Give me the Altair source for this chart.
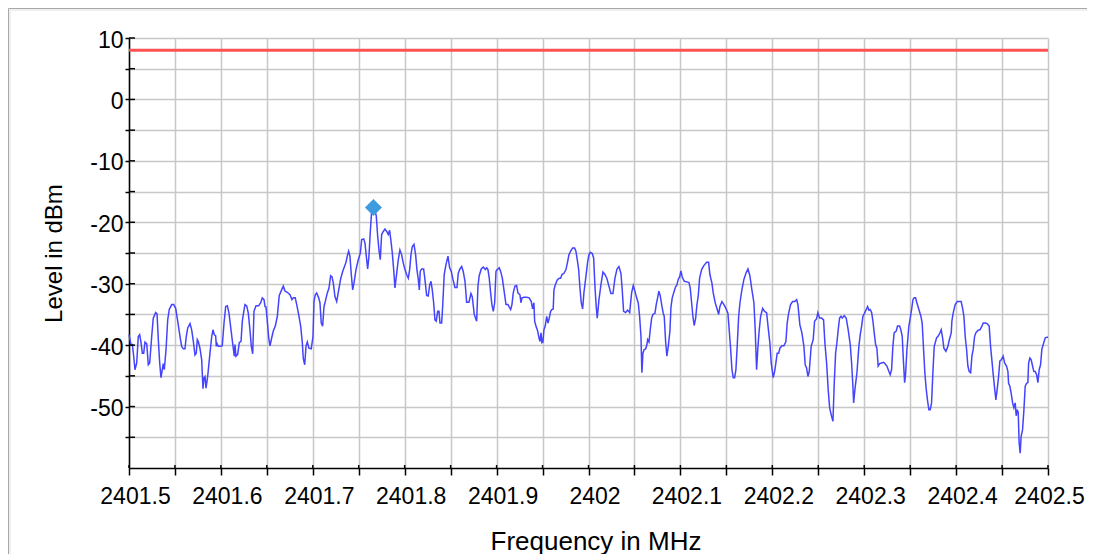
import altair as alt
import pandas as pd

# Sweep offsets from the start frequency (kHz) and measured levels (dBm)
start_mhz = 2401.5
offset_khz = [
    0, 2.2, 3.6, 5.1, 6.5, 8.4, 10.1, 11.6, 13.1, 14.5, 16.0, 17.4, 19.3, 21.0, 22.5, 24.7, 26.4, 29.0, 30.5, 31.9,
    33.4, 34.8, 36.2, 37.3, 38.4, 40.3, 42.1, 43.8, 46.5, 48.6, 50.8, 53.0, 55.5, 57.3, 59.1, 60.9, 62.3, 63.9, 66.4, 68.2,
    70.0, 71.8, 73.2, 74.3, 75.4, 77.2, 79.1, 80.5, 81.6, 82.7, 83.8, 85.6, 88.1, 90.0, 91.4, 92.8, 94.3, 95.0, 95.7, 97.2,
    99.3, 101.5, 103.4, 105.2, 107.0, 108.8, 111.0, 113.2, 114.6, 115.3, 116.4, 118.3, 120.0, 121.9, 123.3, 124.4, 126.2, 128.1, 129.8, 131.6,
    133.1, 134.6, 136.0, 138.2, 141.1, 143.3, 145.0, 146.9, 148.0, 149.1, 150.5, 152.0, 153.4, 155.3, 157.0, 159.2, 161.4, 163.5, 166.1, 167.9,
    169.7, 172.2, 175.2, 177.3, 178.8, 180.9, 182.5, 184.6, 186.8, 188.6, 189.6, 191.2, 192.6, 194.0, 195.8, 198.3, 200.2, 201.3, 202.7, 204.2,
    206.4, 207.8, 209.2, 210.7, 212.2, 213.6, 215.8, 217.6, 219.4, 220.9, 222.3, 224.1, 226.0, 228.2, 230.3, 232.5, 234.7, 236.1, 237.5, 239.0,
    240.4, 241.9, 243.4, 244.8, 247.0, 249.5, 251.7, 253.2, 255.4, 256.8, 258.2, 259.7, 261.1, 262.5, 264.1, 265.8, 267.6, 269.1, 270.6, 272.0,
    273.4, 274.9, 276.7, 278.5, 280.4, 282.1, 283.6, 285.1, 286.5, 288.0, 289.4, 291.3, 293.0, 294.8, 296.7, 298.4, 300.3, 302.1, 303.9, 305.4,
    306.8, 308.2, 310.1, 311.9, 313.3, 314.8, 315.9, 316.9, 318.5, 320.6, 322.0, 323.9, 325.6, 327.2, 328.6, 330.0, 331.5, 332.9, 334.3, 335.9,
    337.3, 338.4, 340.2, 341.3, 343.0, 344.9, 347.1, 348.9, 350.7, 352.5, 354.7, 356.9, 358.3, 360.1, 362.0, 363.7, 365.6, 367.4, 369.9, 372.1,
    373.5, 375.7, 378.3, 379.7, 381.1, 383.3, 385.5, 387.7, 389.2, 390.6, 392.0, 393.5, 394.9, 396.4, 397.9, 399.3, 400.7, 402.9, 404.4, 406.2,
    408.0, 410.2, 412.4, 413.8, 415.3, 416.7, 418.1, 420.0, 421.8, 423.2, 425.4, 426.5, 427.6, 429.8, 432.7, 435.5, 437.7, 439.2, 440.6, 441.4,
    442.8, 444.7, 446.1, 447.2, 448.3, 449.3, 450.4, 451.5, 452.9, 454.5, 455.9, 457.3, 458.8, 460.2, 461.6, 462.4, 463.8, 466.0, 468.2, 469.7,
    471.1, 473.3, 475.5, 477.3, 478.7, 480.9, 482.7, 484.9, 486.3, 487.8, 489.3, 490.7, 492.1, 493.6, 495.0, 497.2, 499.1, 500.5, 501.9, 504.1,
    505.6, 507.0, 508.4, 509.5, 511.4, 513.5, 515.7, 517.9, 520.1, 522.2, 524.4, 526.6, 528.8, 531.0, 533.1, 535.3, 536.7, 538.2, 540.4, 542.6,
    544.8, 546.9, 548.7, 550.5, 552.4, 554.1, 555.6, 557.1, 558.1, 559.2, 560.6, 562.2, 563.6, 564.3, 565.8, 567.2, 568.7, 570.1, 572.3, 573.7,
    575.2, 576.6, 578.1, 579.6, 581.3, 582.4, 583.9, 585.3, 586.8, 588.6, 589.7, 591.1, 593.3, 594.8, 596.2, 597.6, 599.2, 600.6, 602.0, 604.2,
    607.1, 609.3, 610.7, 612.2, 613.6, 615.0, 616.6, 618.0, 619.4, 620.9, 623.1, 625.3, 628.5, 630.7, 632.1, 634.3, 635.7, 637.9, 640.1, 641.6,
    643.0, 645.2, 647.4, 649.5, 651.7, 653.1, 654.7, 656.1, 657.5, 659.0, 660.4, 661.8, 663.4, 664.8, 666.9, 669.1, 671.3, 673.5, 675.6, 677.8,
    680.0, 681.4, 682.9, 684.4, 685.8, 687.3, 689.5, 691.6, 693.8, 695.2, 697.4, 698.8, 701.0, 702.5, 703.9, 705.3, 706.9, 708.3, 710.5, 712.6,
    714.8, 716.2, 717.8, 719.9, 722.1, 724.3, 726.5, 727.9, 730.0, 732.2, 734.4, 735.8, 737.3, 738.8, 740.2, 742.3, 744.5, 746.0, 748.2, 749.6,
    751.5, 753.7, 755.8, 757.2, 759.1, 760.8, 762.4, 764.5, 766.0, 767.4, 768.9, 770.3, 771.7, 773.2, 774.7, 776.1, 778.2, 780.4, 782.6, 784.8,
    786.3, 787.7, 788.5, 789.9, 792.1, 794.2, 795.7, 797.2, 798.6, 800.0, 802.2, 803.7, 805.1, 806.5, 808.1, 809.5, 810.9, 812.4, 813.8, 815.2,
    816.8, 818.9, 821.1, 822.5, 824.7, 826.9, 828.3, 829.8, 831.2, 832.6, 834.8, 836.3, 838.5, 839.9, 841.4, 842.4, 844.0, 845.0, 846.5, 848.6,
    850.1, 851.6, 853.0, 854.4, 855.9, 857.3, 859.5, 861.7, 863.1, 864.6, 866.0, 867.5, 869.0, 870.4, 871.8, 873.3, 874.8, 876.2, 878.8, 880.2,
    882.4, 883.8, 885.3, 886.7, 888.9, 891.1, 892.5, 894.7, 895.4, 896.8, 899.0, 901.2, 904.1, 905.5, 907.1, 908.5, 909.9, 911.4, 912.8, 914.3,
    915.8, 917.2, 918.6, 920.1, 921.5, 923.7, 925.9, 928.1, 929.5, 931.7, 933.8, 936.0, 937.5, 938.9, 940.4, 941.9, 943.3, 944.7, 946.2, 947.6,
    949.1, 951.2, 952.8, 954.9, 956.4, 957.1, 958.5, 959.9, 961.5, 962.9, 964.3, 965.4, 966.5, 967.6, 968.6, 969.7, 970.8, 972.3, 973.8, 975.2,
    976.7, 978.1, 978.9, 980.3, 981.7, 983.2, 984.6, 986.1, 987.6, 989.0, 990.4, 991.9, 993.3, 994.8, 997.0, 999.1, 1000.0,
]
level_dbm = [
    -38.3, -39.9, -39.9, -41.8, -44.0, -42.9, -38.6, -38.3, -39.6, -41.3, -41.3, -39.5, -39.8, -43.2, -42.9, -38.6, -35.6, -34.7, -34.9, -39.1,
    -42.9, -45.3, -44.0, -43.0, -44.0, -40.7, -35.9, -34.2, -33.4, -33.4, -34.0, -36.1, -38.6, -40.2, -40.6, -40.6, -38.6, -37.2, -36.5, -37.5,
    -39.4, -41.6, -41.3, -39.1, -39.4, -40.5, -42.4, -47.1, -45.3, -45.1, -47.0, -45.1, -41.3, -38.6, -37.5, -38.3, -38.5, -40.2, -39.7, -40.2,
    -40.2, -40.1, -36.4, -33.7, -33.6, -34.8, -37.5, -40.2, -41.8, -39.9, -41.8, -41.5, -39.6, -39.4, -36.1, -35.0, -33.4, -33.6, -34.8, -37.5,
    -40.2, -41.4, -34.5, -33.6, -33.6, -33.1, -32.3, -32.6, -33.7, -33.8, -36.1, -38.8, -40.1, -38.8, -37.7, -36.9, -35.3, -31.9, -31.0, -30.4,
    -31.2, -31.4, -31.8, -32.6, -32.3, -32.3, -33.4, -35.0, -36.9, -39.6, -42.1, -43.2, -40.2, -39.5, -40.5, -40.6, -38.6, -32.9, -31.8, -31.5,
    -32.3, -33.1, -36.4, -36.9, -33.7, -32.9, -31.5, -30.7, -28.7, -28.9, -29.9, -32.1, -32.9, -31.0, -29.2, -28.0, -27.1, -26.5, -25.5, -24.7,
    -25.5, -28.5, -31.0, -29.9, -27.7, -26.1, -25.0, -22.8, -22.7, -23.4, -25.5, -27.6, -25.5, -21.7, -18.0, -17.6, -18.1, -19.0, -22.3, -24.5,
    -26.1, -22.0, -21.5, -21.1, -21.5, -22.0, -21.3, -23.1, -25.0, -27.7, -30.7, -28.3, -26.1, -24.5, -25.3, -26.6, -27.7, -28.5, -29.1, -27.7,
    -25.3, -24.0, -23.6, -25.3, -27.7, -29.3, -31.0, -28.0, -27.6, -27.6, -29.3, -31.9, -32.0, -30.2, -29.6, -31.0, -33.1, -35.9, -36.1, -34.5,
    -34.5, -36.4, -36.4, -33.7, -28.5, -26.9, -25.5, -27.4, -28.0, -29.3, -30.6, -30.6, -28.3, -27.6, -27.2, -28.0, -29.6, -33.0, -33.0, -31.6,
    -32.1, -35.0, -36.1, -30.4, -28.7, -27.6, -27.3, -27.7, -27.4, -27.7, -29.1, -31.5, -33.4, -34.5, -33.1, -28.0, -27.7, -27.4, -28.0, -29.1,
    -31.0, -33.4, -33.4, -33.8, -34.2, -33.4, -31.5, -30.4, -30.3, -31.5, -31.8, -33.1, -32.3, -32.2, -32.2, -32.3, -32.9, -34.1, -33.1, -36.1,
    -36.9, -37.7, -38.8, -39.4, -38.0, -39.6, -39.5, -37.5, -36.9, -35.3, -36.4, -35.6, -34.5, -34.2, -34.1, -31.0, -30.2, -29.4, -29.1, -29.1,
    -28.5, -28.3, -27.7, -26.4, -25.3, -24.6, -24.2, -24.2, -24.7, -26.1, -27.7, -30.7, -33.1, -34.1, -31.5, -28.8, -26.4, -25.3, -24.9, -25.1,
    -25.8, -30.4, -33.7, -35.6, -32.6, -30.2, -28.1, -28.5, -29.2, -30.4, -31.6, -31.6, -29.1, -27.6, -27.2, -28.3, -31.0, -34.5, -34.7, -34.3,
    -34.7, -31.5, -30.3, -31.2, -32.3, -33.1, -35.3, -38.6, -44.5, -41.3, -40.7, -40.6, -39.9, -39.1, -39.5, -37.5, -35.6, -35.0, -34.8, -33.4,
    -32.3, -31.2, -32.0, -33.4, -34.8, -35.3, -39.4, -41.8, -40.2, -37.7, -33.9, -32.3, -31.2, -30.5, -30.2, -29.3, -28.9, -27.9, -28.9, -29.6,
    -29.7, -29.8, -30.7, -33.1, -35.3, -36.8, -35.6, -33.4, -32.0, -29.1, -27.7, -27.1, -26.5, -26.5, -28.5, -29.9, -31.5, -33.1, -34.2, -35.0,
    -33.7, -32.9, -33.4, -34.0, -34.8, -37.5, -40.7, -44.0, -45.3, -45.3, -44.0, -40.2, -35.3, -33.1, -31.0, -29.3, -28.3, -27.6, -28.7, -31.0,
    -33.1, -37.5, -44.0, -40.2, -37.5, -35.3, -34.0, -34.5, -34.7, -36.7, -39.7, -42.9, -45.3, -44.3, -42.9, -41.3, -41.3, -40.5, -40.1, -40.1,
    -39.4, -36.4, -34.8, -33.4, -32.9, -32.9, -32.6, -33.4, -36.7, -38.0, -40.2, -43.2, -43.7, -45.1, -44.3, -40.2, -39.1, -36.1, -35.7, -34.7,
    -35.6, -35.6, -35.9, -39.6, -42.9, -47.2, -50.2, -51.6, -52.4, -46.2, -41.3, -39.6, -37.5, -35.6, -35.3, -35.6, -35.2, -35.6, -37.5, -39.9,
    -42.9, -46.7, -49.4, -47.2, -44.5, -40.2, -38.3, -36.9, -35.3, -34.9, -34.2, -33.7, -34.3, -34.2, -34.7, -36.1, -38.0, -39.9, -40.5, -43.4,
    -43.0, -42.9, -42.8, -43.0, -43.4, -44.3, -44.8, -44.0, -40.2, -38.0, -37.7, -36.9, -36.9, -37.5, -38.6, -41.8, -46.1, -44.8, -40.7, -36.9,
    -35.6, -34.2, -32.6, -32.3, -32.3, -33.1, -34.2, -35.3, -36.4, -40.7, -44.5, -47.2, -49.1, -50.5, -50.5, -49.4, -44.3, -40.2, -38.8, -38.6,
    -38.0, -37.5, -38.8, -40.5, -41.0, -40.2, -39.2, -38.0, -36.1, -34.8, -33.4, -32.9, -32.9, -32.9, -34.0, -35.3, -38.6, -40.7, -43.4, -44.3,
    -44.5, -41.8, -40.7, -38.6, -38.0, -37.6, -37.5, -36.9, -36.4, -36.4, -36.5, -36.9, -40.2, -42.4, -44.8, -47.0, -48.9, -47.2, -45.1, -42.6,
    -42.4, -41.8, -42.9, -43.4, -44.3, -46.2, -46.7, -47.8, -49.4, -50.2, -49.4, -51.5, -50.5, -51.0, -55.9, -57.6, -54.8, -53.8, -50.5, -46.7,
    -46.2, -46.1, -42.9, -42.1, -42.4, -43.4, -44.3, -44.3, -44.8, -46.1, -44.0, -43.2, -40.7, -39.9, -38.8, -38.7, -38.7,
]

# Peak marker and limit line
marker_freq = [2401.766]
marker_level = [-17.6]
limit_level = [8]

# Axis tick values
x_ticks = [2401.5, 2401.55, 2401.6, 2401.65, 2401.7, 2401.75, 2401.8, 2401.85, 2401.9, 2401.95, 2402.0,
           2402.05, 2402.1, 2402.15, 2402.2, 2402.25, 2402.3, 2402.35, 2402.4, 2402.45, 2402.5]
y_ticks = [-55, -50, -45, -40, -35, -30, -25, -20, -15, -10, -5, 0, 5, 10]

trace_df = pd.DataFrame({"freq": [start_mhz + k / 1000.0 for k in offset_khz], "level": level_dbm})
marker_df = pd.DataFrame({"freq": marker_freq, "level": marker_level})
limit_df = pd.DataFrame({"level": limit_level})
xtick_df = pd.DataFrame({"freq": x_ticks})
ytick_df = pd.DataFrame({"level": y_ticks})
frame_df = pd.DataFrame({"k": [0]})

W, H = 919, 430
FONT = "Liberation Sans"

x_scale = alt.Scale(domain=[2401.5, 2402.5], nice=False, zero=False)
y_scale = alt.Scale(domain=[-60, 10], nice=False, zero=False)

x_enc = alt.X("freq:Q", scale=x_scale, axis=alt.Axis(
    values=x_ticks, tickCount=40, grid=True, title="Frequency in MHz",
    labelExpr="round(datum.value * 20) % 2 == 0 ? format(datum.value, '.6~g') : ''",
    tickSize=7, labelPadding=10, titlePadding=20, labelFlush=False,
    labelOffset={"condition": {"test": "datum.value > 2402.45", "value": 1}, "value": 6},
    labelOverlap=False, titleFontSize=26, titleX=W / 2 + 7,
))
y_enc = alt.Y("level:Q", scale=y_scale, axis=alt.Axis(
    values=y_ticks, tickCount=40, grid=True, title="Level in dBm",
    labelExpr="round(datum.value) % 10 == 0 ? toString(datum.value) : ''",
    tickSize=4, labelPadding=2, labelOffset=2, titlePadding=23, labelFlush=False,
    labelOverlap=False, titleFontSize=24,
))

# Outer frame: top and left edges (the rest lies beyond the page)
frame_top = alt.Chart(frame_df).mark_rule(color="#a8a8a8", strokeWidth=1).encode(
    x=alt.value(-120.5), x2=alt.value(1200), y=alt.value(-29.5)
)
frame_left = alt.Chart(frame_df).mark_rule(color="#a8a8a8", strokeWidth=1).encode(
    x=alt.value(-120.5), y=alt.value(-29.5), y2=alt.value(1000)
)
frame_top2 = alt.Chart(frame_df).mark_rule(color="#ebebeb", strokeWidth=1.5).encode(
    x=alt.value(-119.5), x2=alt.value(1200), y=alt.value(-28)
)
frame_left2 = alt.Chart(frame_df).mark_rule(color="#ebebeb", strokeWidth=1.5).encode(
    x=alt.value(-119), y=alt.value(-28.5), y2=alt.value(1000)
)

trace = alt.Chart(trace_df).mark_line(color="#4444ff", strokeWidth=1.5).encode(x=x_enc, y=y_enc)

limit = alt.Chart(limit_df).mark_rule(color="#ff5252", strokeWidth=3).encode(y=alt.Y("level:Q", scale=y_scale))

ytick_in = alt.Chart(ytick_df).mark_rule(color="black", strokeWidth=1.5).encode(
    y=alt.Y("level:Q", scale=y_scale), x=alt.value(0), x2=alt.value(6)
)
xtick_in = alt.Chart(xtick_df).mark_rule(color="black", strokeWidth=1.5).encode(
    x=alt.X("freq:Q", scale=x_scale), y=alt.value(H - 3), y2=alt.value(H)
)

marker = alt.Chart(marker_df).mark_point(shape="diamond", filled=True, size=290, color="#3d9be0", opacity=1).encode(
    x=alt.X("freq:Q", scale=x_scale), y=alt.Y("level:Q", scale=y_scale)
)

chart = alt.layer(frame_top2, frame_left2, frame_top, frame_left, trace, limit, ytick_in, xtick_in, marker).properties(
    width=W, height=H,
    autosize=alt.AutoSizeParams(type="none"),
    padding={"left": 121, "top": 30, "right": 39, "bottom": 90},
).configure_view(strokeWidth=0).configure_axis(
    labelFont=FONT, titleFont=FONT, labelFontSize=23, titleFontSize=23,
    titleFontWeight="normal", labelColor="#000", titleColor="#000",
    domainColor="#000", domainWidth=1.5, tickColor="#000", tickWidth=1.5,
    gridColor="#c8c8c8", gridWidth=1.5,
)

chart.save("out.html", embed_options={"renderer": "svg", "actions": False})
